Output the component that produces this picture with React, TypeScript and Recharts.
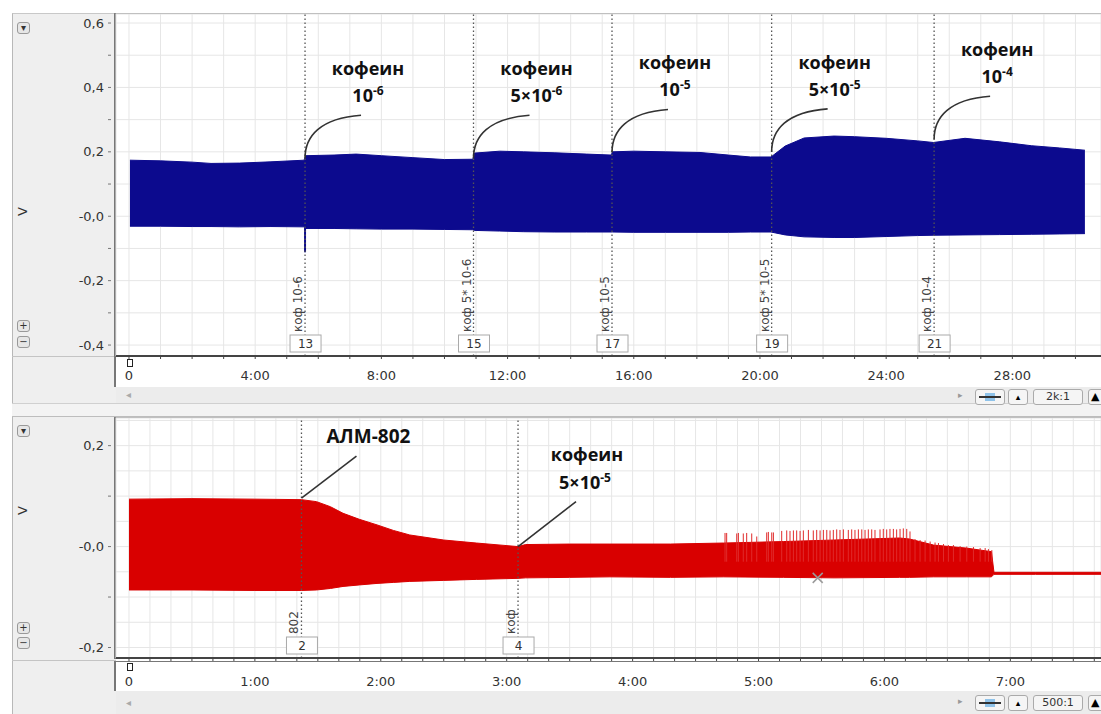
import {
  Area,
  CartesianGrid,
  ComposedChart,
  ReferenceDot,
  ReferenceLine,
  XAxis,
  YAxis,
} from "recharts";

// верхняя запись (мин) – огибающая сигнала, В
const topTime = [
  0.03, 1, 2, 2.6, 3.5, 4.5, 5.55, 5.6, 6.5, 7.2, 8, 9, 10, 10.9, 10.95, 11.75,
  12.5, 13.5, 14.5, 15.28, 15.33, 16, 17, 18.1, 19, 19.7, 20.35, 20.8, 21.4,
  22.35, 23, 24, 25, 25.5, 26.5, 27.6, 28.6, 29.5, 30.3,
];
const topUpper = [
  0.174, 0.172, 0.168, 0.164, 0.165, 0.169, 0.174, 0.188, 0.19, 0.193, 0.188,
  0.182, 0.176, 0.177, 0.196, 0.202, 0.2, 0.197, 0.193, 0.19, 0.2, 0.202, 0.2,
  0.198, 0.19, 0.184, 0.184, 0.218, 0.243, 0.249, 0.247, 0.242, 0.234, 0.229,
  0.242, 0.231, 0.219, 0.212, 0.205,
];
const topLower = [
  -0.031, -0.031, -0.032, -0.032, -0.033, -0.032, -0.033, -0.038, -0.038,
  -0.039, -0.04, -0.04, -0.041, -0.042, -0.044, -0.046, -0.048, -0.049, -0.049,
  -0.049, -0.049, -0.05, -0.05, -0.05, -0.05, -0.049, -0.049, -0.058, -0.064,
  -0.066, -0.066, -0.063, -0.06, -0.059, -0.058, -0.057, -0.056, -0.055, -0.054,
];

const topMarkerTime = [5.58, 10.92, 15.31, 20.37, 25.52];
const topMarkerNum = ["13", "15", "17", "19", "21"];
const topMarkerText = ["коф 10-6", "коф 5* 10-6", "коф 10-5", "коф 5* 10-5", "коф 10-4"];

const topNoteValue = [0.18, 0.18, 0.198, 0.2, 0.239];
const topNoteBase = ["10", "5×10", "10", "5×10", "10"];
const topNoteExp = ["-6", "-6", "-5", "-5", "-4"];

const topXTicks = Array.from({ length: 31 }, (_, i) => i);
const topYTicks = [-0.4, -0.3, -0.2, -0.1, 0, 0.1, 0.2, 0.3, 0.4, 0.5, 0.6];
const topYLabels = [-0.4, -0.2, 0, 0.2, 0.4, 0.6];

// нижняя запись
const botTime = [
  0, 0.5, 1, 1.37, 1.49, 1.6, 1.7, 1.83, 1.97, 2.1, 2.23, 2.5, 2.76, 3.09, 3.15,
  3.5, 3.82, 4.3, 4.72, 5.2, 5.6, 6.12, 6.2, 6.39, 6.65, 6.85, 6.87, 7.2, 7.72,
];
const botUpper = [
  0.094, 0.095, 0.094, 0.093, 0.089, 0.079, 0.066, 0.054, 0.043, 0.032, 0.023,
  0.013, 0.007, 0.0, 0.004, 0.005, 0.005, 0.005, 0.007, 0.01, 0.013, 0.017,
  0.015, 0.003, -0.003, -0.01, -0.051, -0.051, -0.051,
];
const botLower = [
  -0.086, -0.086, -0.087, -0.087, -0.086, -0.083, -0.079, -0.076, -0.073,
  -0.071, -0.069, -0.067, -0.065, -0.063, -0.062, -0.061, -0.06, -0.061, -0.06,
  -0.061, -0.062, -0.061, -0.061, -0.06, -0.06, -0.06, -0.055, -0.055, -0.055,
];

const botMarkerTime = [1.37, 3.09];
const botMarkerNum = ["2", "4"];
const botMarkerText = ["802", "коф"];

// отдельные пики над огибающей
const spikeTime = [
  4.734, 4.747, 4.827, 4.84, 4.879, 4.906, 4.946, 4.986, 5.065, 5.078, 5.105,
  5.118, 5.184, 5.224, 5.25, 5.277, 5.303, 5.33, 5.356, 5.396, 5.435, 5.462,
  5.489, 5.515, 5.542, 5.568, 5.594, 5.621, 5.647, 5.674, 5.713, 5.74, 5.766,
  5.793, 5.82, 5.846, 5.872, 5.899, 5.925, 5.965, 5.991, 6.018, 6.044, 6.071,
  6.097, 6.124, 6.15, 6.177, 6.203, 6.243, 6.283, 6.323, 6.363, 6.402, 6.429,
  6.469, 6.508, 6.548, 6.601, 6.654, 6.707, 6.76, 6.8, 6.826, 6.853,
];
const spikeTop = [
  0.027, 0.027, 0.026, 0.027, 0.026, 0.027, 0.026, 0.02, 0.028, 0.029, 0.028,
  0.028, 0.031, 0.032, 0.031, 0.032, 0.032, 0.031, 0.032, 0.033, 0.032, 0.033,
  0.032, 0.033, 0.033, 0.032, 0.033, 0.034, 0.033, 0.034, 0.033, 0.034, 0.033,
  0.034, 0.034, 0.033, 0.034, 0.034, 0.033, 0.034, 0.035, 0.034, 0.035, 0.035,
  0.034, 0.035, 0.036, 0.035, 0.03, 0.015, 0.013, 0.012, 0.01, 0.008, 0.007,
  0.005, 0.003, 0.003, 0.001, 0.0, -0.001, -0.003, -0.003, -0.005, -0.007,
];
const spikeBase = -0.03;

const botXTicks = Array.from({ length: 47 }, (_, i) => i / 6);
const botYTicks = [-0.2, -0.15, -0.1, -0.05, 0, 0.05, 0.1, 0.15, 0.2, 0.25];
const botYMarks = [-0.2, -0.1, 0, 0.1, 0.2];
const botYLabels = [-0.2, 0, 0.2];

const topData = topTime.map((t, i) => ({ t, range: [topLower[i], topUpper[i]] }));
const botData = botTime.map((t, i) => ({ t, range: [botLower[i], botUpper[i]] }));

const BLUE = "#0c0a8e";
const RED = "#d90000";

const near = (list: number[], v: number) => list.some((l) => Math.abs(l - v) < 1e-6);
const fmtY = (v: number) => (Math.abs(v) < 1e-9 ? "-0,0" : v.toFixed(1).replace(".", ","));
const fmtTopX = (v: number) => (v % 4 === 0 ? (v === 0 ? "0" : `${v}:00`) : "");
const fmtBotX = (v: number) => {
  const m = Math.round(v);
  if (Math.abs(v - m) > 1e-6) return "";
  return m === 0 ? "0" : `${m}:00`;
};

const noteFont = { fontFamily: "Open Sans", fontWeight: 700, fontSize: 18, fill: "#111" };

const YTick = ({ x, y, payload, labels, marks }: any) => (
  <g>
    {near(marks, payload.value) && (
      <line x1={x + 4} x2={x + 7} y1={y} y2={y} stroke="#777" />
    )}
    {near(labels, payload.value) && (
      <text x={x} y={y} dy={4.5} textAnchor="end" fontSize={13} fill="#333">
        {fmtY(payload.value)}
      </text>
    )}
  </g>
);

const CurveNote = ({ cx, cy, base, exp }: any) => (
  <g>
    <path
      d={`M${cx},${cy} C${cx},${cy - 22} ${cx + 15},${cy - 40} ${cx + 56},${cy - 43}`}
      fill="none"
      stroke="#333"
      strokeWidth={1.6}
    />
    <text x={cx + 63} y={cy - 83} textAnchor="middle" style={noteFont}>
      кофеин
    </text>
    <text x={cx + 63} y={cy - 56} textAnchor="middle" style={noteFont}>
      {base}
      <tspan dy={-7} fontSize={12}>
        {exp}
      </tspan>
    </text>
  </g>
);

const LineNote = ({ cx, cy, dx, dy, lines }: any) => (
  <g>
    <line x1={cx} y1={cy} x2={cx + dx} y2={cy + dy} stroke="#333" strokeWidth={1.6} />
    {lines}
  </g>
);

const MarkerTag = ({ cx, cy, num, text }: any) => (
  <g>
    <text
      transform={`rotate(-90 ${cx - 3} ${cy - 24})`}
      x={cx - 3}
      y={cy - 24}
      fontSize={12}
      fill="#444"
    >
      {text}
    </text>
    <rect x={cx - 15} y={cy - 21} width={31} height={17} fill="#fff" stroke="#aaa" />
    <text x={cx + 0.5} y={cy - 8} textAnchor="middle" fontSize={12} fill="#333">
      {num}
    </text>
  </g>
);

const Cross = ({ cx, cy }: any) => (
  <g stroke="#9a9a9a" strokeWidth={1.5}>
    <line x1={cx - 5} y1={cy - 5} x2={cx + 5} y2={cy + 5} />
    <line x1={cx - 5} y1={cy + 5} x2={cx + 5} y2={cy - 5} />
  </g>
);

const abs = (s: any) => ({ position: "absolute" as const, boxSizing: "border-box" as const, ...s });

const SmallBtn = ({ left, top, label }: any) => (
  <div
    style={abs({
      left,
      top,
      width: 13,
      height: 12,
      border: "1px solid #999",
      borderRadius: 3,
      background: "#e6e6e6",
      fontSize: 10,
      lineHeight: "10px",
      textAlign: "center",
      color: "#333",
    })}
  >
    {label}
  </div>
);

const Controls = ({ top, ratio }: any) => (
  <>
    <div style={abs({ left: 958, top: top + 1, fontSize: 9, color: "#999" })}>▸</div>
    <div
      style={abs({
        left: 975,
        top,
        width: 30,
        height: 16,
        border: "1px solid #aaa",
        borderRadius: 3,
        background: "#f5f5f5",
      })}
    >
      <div style={abs({ left: 9, top: 3, width: 10, height: 8, background: "#8fc3ea" })} />
      <div style={abs({ left: 3, top: 6, width: 22, height: 2, background: "#333" })} />
    </div>
    <div
      style={abs({
        left: 1008,
        top,
        width: 20,
        height: 16,
        border: "1px solid #aaa",
        borderRadius: 3,
        background: "#f5f5f5",
        fontSize: 9,
        textAlign: "center",
        lineHeight: "14px",
      })}
    >
      ▴
    </div>
    <div
      style={abs({
        left: 1033,
        top,
        width: 50,
        height: 16,
        border: "1px solid #aaa",
        borderRadius: 3,
        background: "#f5f5f5",
        fontSize: 11,
        textAlign: "center",
        lineHeight: "14px",
        color: "#333",
      })}
    >
      {ratio}
    </div>
    <div
      style={abs({
        left: 1088,
        top,
        width: 16,
        height: 16,
        border: "1px solid #aaa",
        borderRadius: 3,
        background: "#f5f5f5",
        fontSize: 11,
        lineHeight: "14px",
        paddingLeft: 2,
      })}
    >
      ▲
    </div>
  </>
);

export default function App() {
  return (
    <div
      style={abs({
        left: 0,
        top: 0,
        width: 1101,
        height: 714,
        overflow: "hidden",
        background: "#fff",
        fontFamily: "DejaVu Sans",
      })}
    >
      {/* фон верхней панели */}
      <div style={abs({ left: 12, top: 13, width: 104, height: 390, background: "#efefef", borderLeft: "1px solid #b8b8b8", borderTop: "1px solid #c8c8c8" })} />
      <div style={abs({ left: 12, top: 356, width: 104, height: 1, background: "#c4c4c4" })} />
      <div style={abs({ left: 114, top: 13, width: 987, height: 344, background: "#fff", borderLeft: "2px solid #777", borderTop: "1px solid #999" })} />
      <div style={abs({ left: 114, top: 357, width: 987, height: 30, background: "#fff", borderLeft: "2px solid #777" })} />
      <div style={abs({ left: 116, top: 387, width: 985, height: 16, background: "#ececec" })} />
      <div style={abs({ left: 126, top: 389, fontSize: 10, color: "#aaa" })}>◂</div>
      <div style={abs({ left: 12, top: 403, width: 1089, height: 14, background: "#f3f3f3", borderTop: "1px solid #d0d0d0", borderBottom: "1px solid #bdbdbd" })} />

      {/* фон нижней панели */}
      <div style={abs({ left: 12, top: 417, width: 104, height: 297, background: "#efefef", borderLeft: "1px solid #b8b8b8" })} />
      <div style={abs({ left: 12, top: 660, width: 104, height: 1, background: "#c4c4c4" })} />
      <div style={abs({ left: 114, top: 417, width: 987, height: 242, background: "#fff", borderLeft: "2px solid #777", borderTop: "1px solid #999" })} />
      <div style={abs({ left: 114, top: 661, width: 987, height: 30, background: "#fff", borderLeft: "2px solid #777", borderTop: "1px solid #777" })} />
      <div style={abs({ left: 116, top: 691, width: 985, height: 23, background: "#ececec" })} />
      <div style={abs({ left: 126, top: 697, fontSize: 10, color: "#aaa" })}>◂</div>

      <div style={abs({ left: 0, top: 0 })}>
        <ComposedChart
          width={1101}
          height={400}
          data={topData}
          margin={{ top: 14, right: 0, bottom: 0, left: 0 }}
        >
          <CartesianGrid stroke="#e6e6e6" />
          <XAxis
            dataKey="t"
            type="number"
            domain={[-0.412, 30.81]}
            allowDataOverflow
            ticks={topXTicks}
            interval={0}
            tickFormatter={fmtTopX}
            height={44}
            tickSize={3}
            tickMargin={12}
            tickLine={{ stroke: "#444" }}
            tick={{ fontSize: 13, fill: "#333" }}
            axisLine={{ stroke: "#444", strokeWidth: 2 }}
          />
          <YAxis
            type="number"
            domain={[-0.434, 0.628]}
            allowDataOverflow
            ticks={topYTicks}
            interval={0}
            width={116}
            axisLine={false}
            tickLine={false}
            tickSize={4}
            tickMargin={8}
            tick={(p: any) => <YTick {...p} labels={topYLabels} marks={topYTicks} />}
          />
          <Area
            type="linear"
            dataKey="range"
            stroke={BLUE}
            strokeWidth={1}
            fill={BLUE}
            fillOpacity={1}
            dot={false}
            activeDot={false}
            isAnimationActive={false}
          />
          <ReferenceLine
            segment={[
              { x: topMarkerTime[0], y: -0.03 },
              { x: topMarkerTime[0], y: -0.112 },
            ]}
            stroke={BLUE}
            strokeWidth={2}
          />
          {topMarkerTime.map((t) => (
            <ReferenceLine key={`m${t}`} x={t} stroke="#555" strokeWidth={1.3} strokeDasharray="1.5 2.5" />
          ))}
          {topMarkerTime.map((t, i) => (
            <ReferenceDot
              key={`tag${t}`}
              x={t}
              y={-0.434}
              r={0}
              ifOverflow="visible"
              shape={(p: any) => <MarkerTag {...p} num={topMarkerNum[i]} text={topMarkerText[i]} />}
            />
          ))}
          {topMarkerTime.map((t, i) => (
            <ReferenceDot
              key={`note${t}`}
              x={t}
              y={topNoteValue[i]}
              r={0}
              ifOverflow="visible"
              shape={(p: any) => <CurveNote {...p} base={topNoteBase[i]} exp={topNoteExp[i]} />}
            />
          ))}
        </ComposedChart>
      </div>

      <div style={abs({ left: 0, top: 404 })}>
        <ComposedChart
          width={1101}
          height={306}
          data={botData}
          margin={{ top: 14, right: 0, bottom: 0, left: 0 }}
        >
          <CartesianGrid stroke="#e6e6e6" />
          <XAxis
            dataKey="t"
            type="number"
            domain={[-0.103, 7.72]}
            allowDataOverflow
            ticks={botXTicks}
            interval={0}
            tickFormatter={fmtBotX}
            height={52}
            tickSize={3}
            tickMargin={16}
            tickLine={{ stroke: "#444" }}
            tick={{ fontSize: 13, fill: "#333" }}
            axisLine={{ stroke: "#444", strokeWidth: 2 }}
          />
          <YAxis
            type="number"
            domain={[-0.2208, 0.2548]}
            allowDataOverflow
            ticks={botYTicks}
            interval={0}
            width={116}
            axisLine={false}
            tickLine={false}
            tickSize={4}
            tickMargin={8}
            tick={(p: any) => <YTick {...p} labels={botYLabels} marks={botYMarks} />}
          />
          <Area
            type="linear"
            dataKey="range"
            stroke={RED}
            strokeWidth={1}
            fill={RED}
            fillOpacity={1}
            dot={false}
            activeDot={false}
            isAnimationActive={false}
          />
          {spikeTime.map((t, i) => (
            <ReferenceLine
              key={`s${i}`}
              segment={[
                { x: t, y: spikeBase },
                { x: t, y: spikeTop[i] },
              ]}
              stroke="#e02a2a"
              strokeWidth={1}
            />
          ))}
          {botMarkerTime.map((t) => (
            <ReferenceLine key={`m${t}`} x={t} stroke="#555" strokeWidth={1.3} strokeDasharray="1.5 2.5" />
          ))}
          {botMarkerTime.map((t, i) => (
            <ReferenceDot
              key={`tag${t}`}
              x={t}
              y={-0.2208}
              r={0}
              ifOverflow="visible"
              shape={(p: any) => <MarkerTag {...p} num={botMarkerNum[i]} text={botMarkerText[i]} />}
            />
          ))}
          <ReferenceDot
            x={1.37}
            y={0.096}
            r={0}
            ifOverflow="visible"
            shape={(p: any) => (
              <LineNote
                {...p}
                dx={55}
                dy={-42}
                lines={
                  <text x={p.cx + 67} y={p.cy - 55} textAnchor="middle" style={{ ...noteFont, fontSize: 19 }}>
                    АЛМ-802
                  </text>
                }
              />
            )}
          />
          <ReferenceDot
            x={3.09}
            y={0.0}
            r={0}
            ifOverflow="visible"
            shape={(p: any) => (
              <LineNote
                {...p}
                dx={58}
                dy={-45}
                lines={
                  <>
                    <text x={p.cx + 69} y={p.cy - 86} textAnchor="middle" style={noteFont}>
                      кофеин
                    </text>
                    <text x={p.cx + 67} y={p.cy - 58} textAnchor="middle" style={noteFont}>
                      5×10
                      <tspan dy={-7} fontSize={12}>
                        -5
                      </tspan>
                    </text>
                  </>
                }
              />
            )}
          />
          <ReferenceDot x={5.47} y={-0.062} r={0} ifOverflow="visible" shape={(p: any) => <Cross {...p} />} />
        </ComposedChart>
      </div>

      {/* мелкие элементы интерфейса */}
      <div style={abs({ left: 127, top: 359, width: 6, height: 8, border: "1.5px solid #222", background: "#fff" })} />
      <div style={abs({ left: 127, top: 663, width: 6, height: 8, border: "1.5px solid #222", background: "#fff" })} />
      <div style={abs({ left: 18, top: 204, fontSize: 13, color: "#333", transform: "rotate(-90deg)" })}>V</div>
      <div style={abs({ left: 18, top: 503, fontSize: 13, color: "#333", transform: "rotate(-90deg)" })}>V</div>
      <SmallBtn left={17} top={22} label="▾" />
      <SmallBtn left={17} top={320} label="+" />
      <SmallBtn left={17} top={336} label="−" />
      <SmallBtn left={17} top={425} label="▾" />
      <SmallBtn left={17} top={622} label="+" />
      <SmallBtn left={17} top={637} label="−" />
      <Controls top={389} ratio="2k:1" />
      <Controls top={695} ratio="500:1" />
    </div>
  );
}
